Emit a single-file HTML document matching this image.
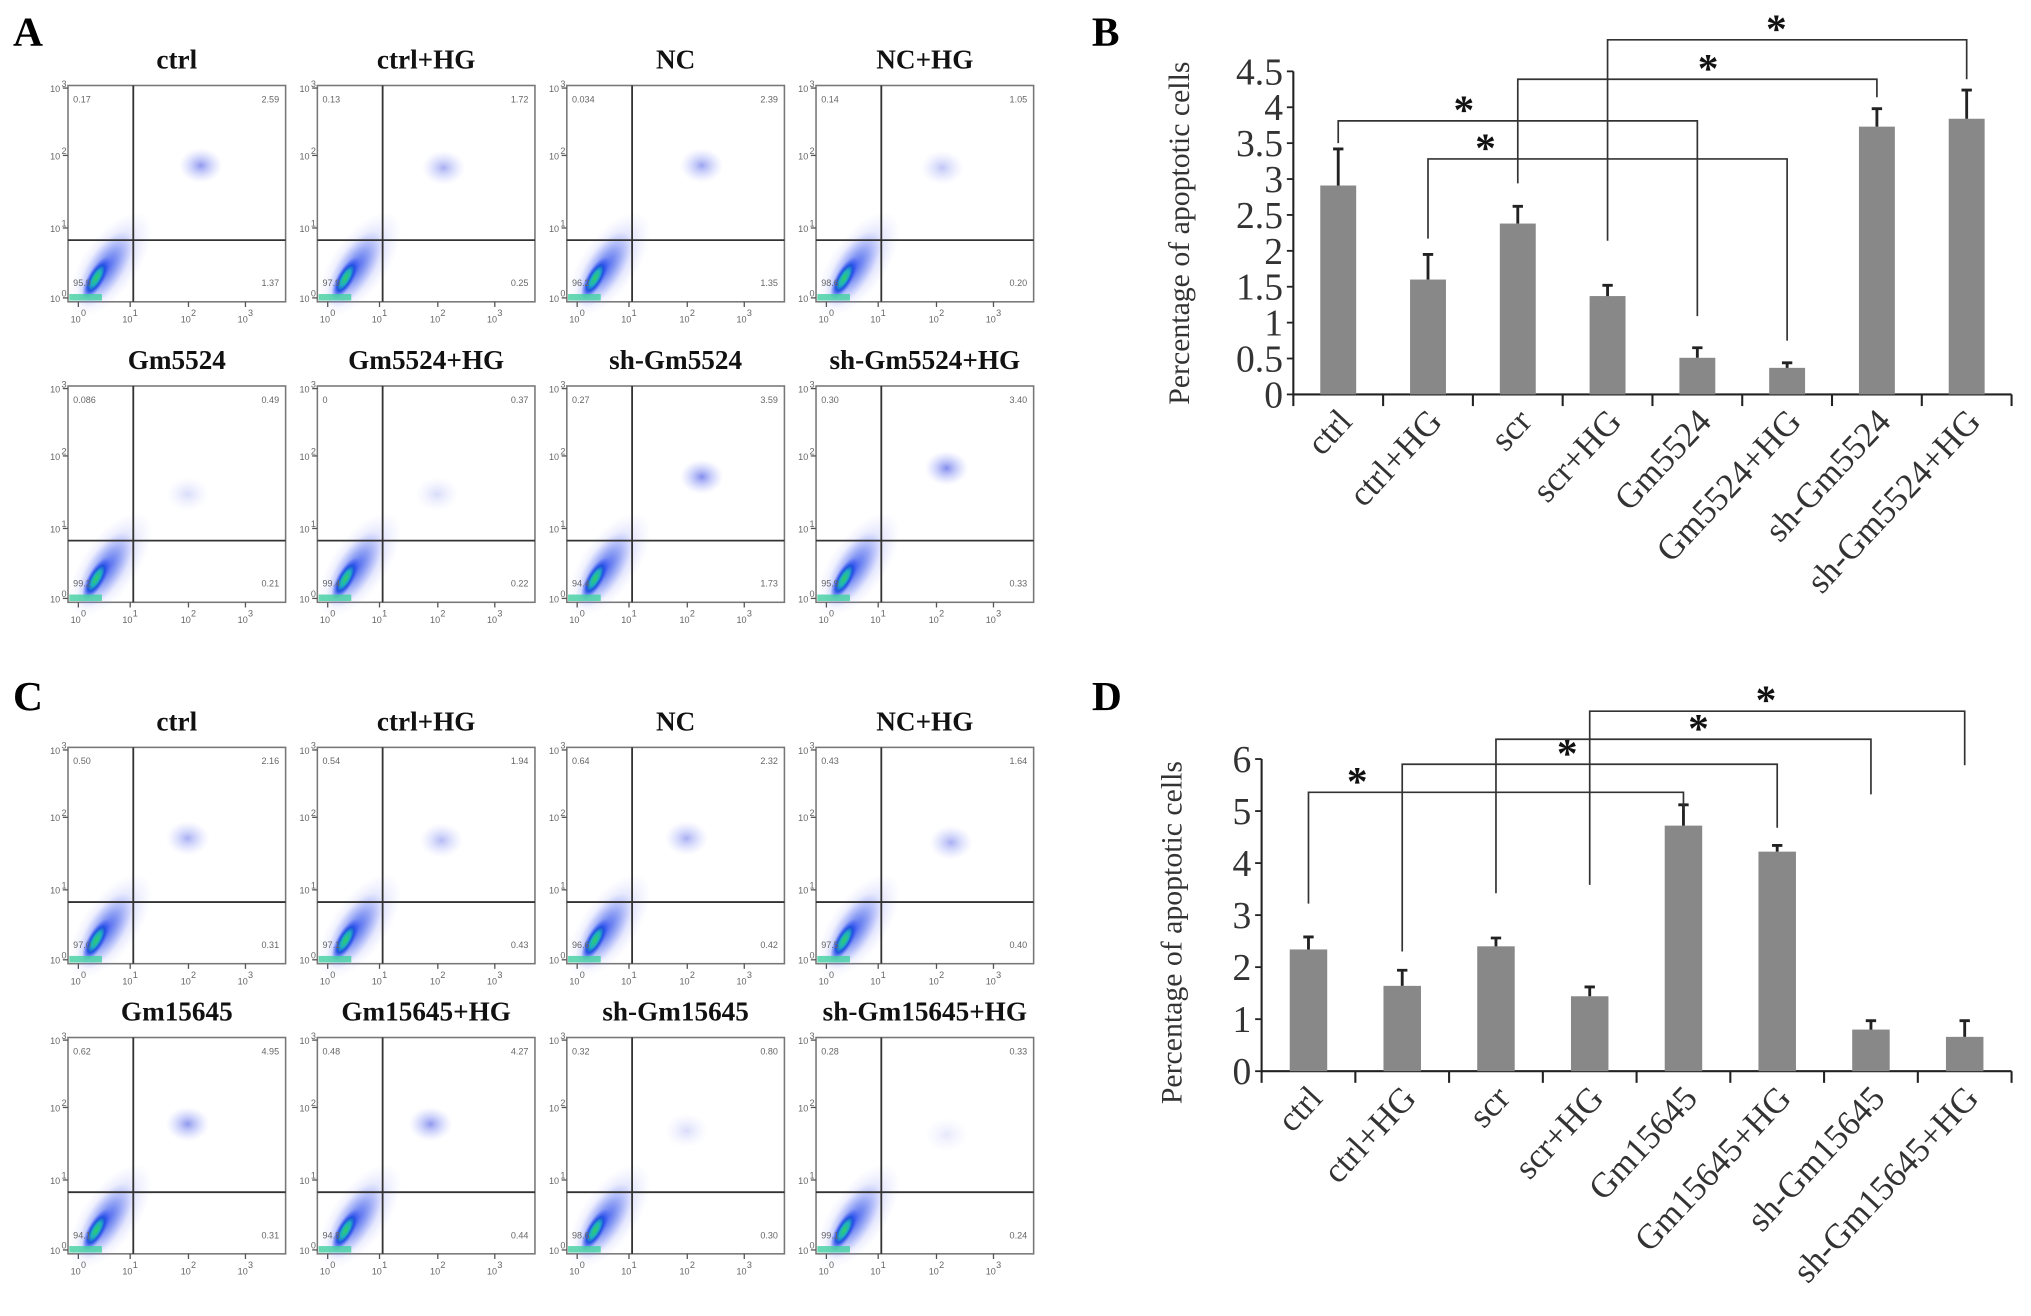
<!DOCTYPE html>
<html><head><meta charset="utf-8">
<style>
html,body{margin:0;padding:0;background:#fff;}
svg{display:block;}
text{font-family:"Liberation Serif",serif;}
.sm{font-family:"Liberation Sans",sans-serif;font-size:7px;fill:#666;}
</style></head>
<body>
<svg id="fig" xmlns="http://www.w3.org/2000/svg" width="2031" height="1316" viewBox="0 0 1568 1016" preserveAspectRatio="none">
<defs>
<radialGradient id="core" cx="50%" cy="50%" r="50%">
<stop offset="0" stop-color="#30d060"/>
<stop offset="0.35" stop-color="#20b0c0"/>
<stop offset="0.6" stop-color="#2050e0"/>
<stop offset="1" stop-color="#5060ff" stop-opacity="0"/>
</radialGradient>
<radialGradient id="halo" cx="50%" cy="50%" r="50%">
<stop offset="0" stop-color="#3050f0" stop-opacity="0.85"/>
<stop offset="0.5" stop-color="#5070f0" stop-opacity="0.45"/>
<stop offset="1" stop-color="#8090ff" stop-opacity="0"/>
</radialGradient>
<radialGradient id="pop" cx="50%" cy="50%" r="50%">
<stop offset="0" stop-color="#3040e0" stop-opacity="0.6"/>
<stop offset="0.5" stop-color="#6070f0" stop-opacity="0.3"/>
<stop offset="1" stop-color="#9aa0ff" stop-opacity="0"/>
</radialGradient>
</defs>
<text x="10" y="35" font-size="32" font-weight="bold">A</text>
<text x="10" y="548" font-size="32" font-weight="bold">C</text>
<text x="843" y="35" font-size="32" font-weight="bold">B</text>
<text x="843" y="548" font-size="32" font-weight="bold">D</text>
<g id="flows"></g>
<g id="chartB"></g>
<g id="chartD"></g>
</svg>
<script>
// ---- Panel B data ----
const catsB = ["ctrl","ctrl+HG","scr","scr+HG","Gm5524","Gm5524+HG","sh-Gm5524","sh-Gm5524+HG"];
const valsB = [2.91,1.60,2.38,1.37,0.51,0.37,3.73,3.84];
const errB  = [3.42,1.95,2.62,1.52,0.65,0.44,3.98,4.24];
const ticksB = [0,0.5,1,1.5,2,2.5,3,3.5,4,4.5];
const tickLabelsB = ["0","0.5","1","1.5","2","2.5","3","3.5","4","4.5"];
const brFromB = [0,1,2,3];
const brToB   = [4,5,6,7];
const brLevelB = [3.81,3.28,4.39,4.94];
const brLegFromB = [3.50,2.17,2.94,2.14];
const brLegToB = [1.09,0.75,4.14,4.39];
const brStarB = [0.35,0.16,0.53,0.47];
// ---- Panel D data ----
const catsD = ["ctrl","ctrl+HG","scr","scr+HG","Gm15645","Gm15645+HG","sh-Gm15645","sh-Gm15645+HG"];
const valsD = [2.34,1.64,2.40,1.44,4.72,4.22,0.80,0.66];
const errD  = [2.58,1.94,2.56,1.62,5.12,4.34,0.97,0.97];
const ticksD = [0,1,2,3,4,5,6];
const tickLabelsD = ["0","1","2","3","4","5","6"];
const brFromD = [0,1,2,3];
const brToD   = [4,5,6,7];
const brLevelD = [5.36,5.90,6.38,6.92];
const brLegFromD = [3.22,2.30,3.42,3.58];
const brLegToD = [5.02,4.68,5.32,5.88];
const brStarD = [0.13,0.44,0.54,0.47];

const NS="http://www.w3.org/2000/svg";
function mk(tag,attrs,parent){const e=document.createElementNS(NS,tag);for(const k in attrs)e.setAttribute(k,attrs[k]);parent.appendChild(e);return e;}

function barChart(gid,cats,vals,errs,ticks,tlabels,bf,bt,bl,blf,blt,bs,L){
  const g=document.getElementById(gid);
  const n=cats.length, step=(L.x1-L.x0)/n;
  const X=i=>L.x0+step*(i+0.5);
  const Y=v=>L.y0-(v/L.vmax)*(L.y0-L.ytop);
  const ya=mk('line',{x1:L.x0,y1:L.y0+1,x2:L.x0,y2:L.ytop,stroke:'#222','stroke-width':1.6},g);
  
  
  const xa=mk('line',{x1:L.x0,y1:L.y0,x2:L.x1,y2:L.y0,stroke:'#222','stroke-width':1.6},g);
  
  
  for(let i=0;i<=n;i++){
    const t=mk('line',{x1:L.x0+step*i,y1:L.y0,x2:L.x0+step*i,y2:L.y0+9,stroke:'#222','stroke-width':1.6},g);
    
    
  }
  ticks.forEach((v,i)=>{
    const tk=mk('line',{x1:L.x0-5,y1:Y(v),x2:L.x0,y2:Y(v),stroke:'#222','stroke-width':1.4},g);
    
    
    const t=mk('text',{x:L.x0-8,y:Y(v)+10,'font-size':29,'text-anchor':'end',fill:'#333'},g);
    t.textContent=tlabels[i];
    
    
  });
  const bw=step*0.4;
  vals.forEach((v,i)=>{
    const r=mk('rect',{x:X(i)-bw/2,y:Y(v),width:bw,height:L.y0-Y(v),fill:'#888'},g);
    
    
    const e=mk('path',{d:`M${X(i)} ${Y(v)}V${Y(errs[i])}M${X(i)-4} ${Y(errs[i])}H${X(i)+4}`,stroke:'#222','stroke-width':2.2,fill:'none'},g);
    
    
    const t=mk('text',{x:0,y:0,'font-size':27,'text-anchor':'end',fill:'#333',transform:`translate(${X(i)+12},${L.y0+22}) rotate(-47)`},g);
    t.textContent=cats[i];
    
    
  });
  bf.forEach((a,k)=>{
    const xa=X(a), xb=X(bt[k]), yl=Y(bl[k]);
    const p=mk('path',{d:`M${xa} ${Y(blf[k])}V${yl}H${xb}V${Y(blt[k])}`,stroke:'#333','stroke-width':1.3,fill:'none'},g);
    
    
    const s=mk('text',{x:xa+(xb-xa)*bs[k],y:yl+2,'font-size':32,'font-weight':'bold','text-anchor':'middle',fill:'#111','font-family':'Liberation Sans, sans-serif'},g);
    s.textContent='*';
    
    
  });
  const tt=mk('text',{x:0,y:0,'font-size':23,'text-anchor':'middle',fill:'#333',transform:`translate(${L.tx},${L.ty}) rotate(-90)`},g);
  tt.textContent='Percentage of apoptotic cells';
  
  
}
barChart('chartB',catsB,valsB,errB,ticksB,tickLabelsB,brFromB,brToB,brLevelB,brLegFromB,brLegToB,brStarB,
  {x0:998.5,x1:1553,y0:304.5,ytop:55.1,vmax:4.5,tx:918,ty:180});
barChart('chartD',catsD,valsD,errD,ticksD,tickLabelsD,brFromD,brToD,brLevelD,brLegFromD,brLegToD,brStarD,
  {x0:974,x1:1553,y0:827,ytop:586,vmax:6,tx:912,ty:720});

// ---- flow cytometry panels ----
const flowTitles = ["ctrl","ctrl+HG","NC","NC+HG","Gm5524","Gm5524+HG","sh-Gm5524","sh-Gm5524+HG",
                    "ctrl","ctrl+HG","NC","NC+HG","Gm15645","Gm15645+HG","sh-Gm15645","sh-Gm15645+HG"];
const flowUL = ["0.17","0.13","0.034","0.14","0.086","0","0.27","0.30","0.50","0.54","0.64","0.43","0.62","0.48","0.32","0.28"];
const flowUR = ["2.59","1.72","2.39","1.05","0.49","0.37","3.59","3.40","2.16","1.94","2.32","1.64","4.95","4.27","0.80","0.33"];
const flowLL = ["95.9","97.9","96.2","98.6","99.2","99.4","94.4","95.9","97.0","97.1","96.6","97.5","94.1","94.8","98.6","99.1"];
const flowLR = ["1.37","0.25","1.35","0.20","0.21","0.22","1.73","0.33","0.31","0.43","0.42","0.40","0.31","0.44","0.30","0.24"];
const popX = [0.61,0.58,0.62,0.58,0.55,0.55,0.62,0.6,0.55,0.57,0.55,0.62,0.55,0.52,0.55,0.6];
const popY = [0.37,0.38,0.37,0.38,0.5,0.5,0.42,0.38,0.42,0.43,0.42,0.44,0.4,0.4,0.43,0.45];
const popS = [0.9,0.7,0.8,0.5,0.3,0.3,1,1,0.7,0.6,0.7,0.7,0.9,0.9,0.3,0.2];
const colX=[52.5,245,437.6,630];
const rowY=[66,298,577,801];
const fg=document.getElementById('flows');
flowTitles.forEach((title,i)=>{
  const x=colX[i%4], y=rowY[Math.floor(i/4)], w=168, h=167;
  const g=mk('g',{},fg);
  
  
  const t=mk('text',{x:x+w/2,y:y-13,'font-size':21,'font-weight':'bold','text-anchor':'middle',fill:'#111'},g);
  t.textContent=title;
  
  
  mk('rect',{x:x,y:y,width:w,height:h,fill:'#fff',stroke:'#777','stroke-width':1.2},g);
  const cx=x+0.17*w, cy=y+0.85*h;
  mk('ellipse',{cx:cx+4,cy:cy-4,rx:0.28*w,ry:0.13*h,fill:'url(#pop)',opacity:0.7,transform:`rotate(-55 ${cx+4} ${cy-4})`},g);
  mk('ellipse',{cx:cx,cy:cy,rx:0.2*w,ry:0.085*h,fill:'url(#halo)',transform:`rotate(-58 ${cx} ${cy})`},g);
  mk('ellipse',{cx:x+0.13*w,cy:y+0.89*h,rx:0.11*w,ry:0.04*h,fill:'url(#core)',transform:`rotate(-60 ${x+0.13*w} ${y+0.89*h})`},g);
  mk('rect',{x:x+1,y:y+h-6,width:0.15*w,height:5,fill:'#40d0a0',opacity:0.8},g);
  mk('ellipse',{cx:x+popX[i]*w,cy:y+popY[i]*h,rx:0.1*w,ry:0.08*h,fill:'url(#pop)',opacity:popS[i]},g);
  mk('line',{x1:x+0.3*w,y1:y,x2:x+0.3*w,y2:y+h,stroke:'#333','stroke-width':1.4},g);
  mk('line',{x1:x,y1:y+0.715*h,x2:x+w,y2:y+0.715*h,stroke:'#333','stroke-width':1.4},g);
  const q=[[flowUL[i],x+4,y+13,'start'],[flowUR[i],x+w-5,y+13,'end'],[flowLL[i],x+4,y+h-12,'start'],[flowLR[i],x+w-5,y+h-12,'end']];
  q.forEach(a=>{const s=mk('text',{x:a[1],y:a[2],'text-anchor':a[3],class:'sm'},g);s.textContent=a[0];
    
    });
  const ly=[2,54,110,164], bx=[8,48,93,137];
  ['3','2','1','0'].forEach((p,k)=>{
    mk('line',{x1:x-4,y1:y+ly[k],x2:x,y2:y+ly[k],stroke:'#555','stroke-width':1},g);
    const s=mk('text',{x:x-6,y:y+ly[k]+3,'text-anchor':'end',class:'sm'},g);s.textContent='10';
    
    
    const sp=mk('text',{x:x-5,y:y+ly[k]-1,class:'sm','font-size':'5'},g);sp.textContent=p;
  });
  ['0','1','2','3'].forEach((p,k)=>{
    mk('line',{x1:x+bx[k],y1:y+h,x2:x+bx[k],y2:y+h+4,stroke:'#555','stroke-width':1},g);
    const s=mk('text',{x:x+bx[k]-6,y:y+h+16,class:'sm'},g);s.textContent='10';
    
    
    const sp=mk('text',{x:x+bx[k]+2,y:y+h+11,class:'sm','font-size':'5'},g);sp.textContent=p;
  });
});
</script>
</body></html>
